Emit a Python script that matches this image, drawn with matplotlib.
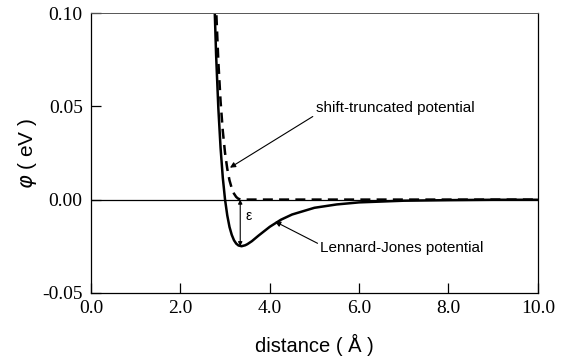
import matplotlib
matplotlib.use("Agg")
import matplotlib.pyplot as plt

# distances (Å) and potentials (eV)
lj_r = [2.75, 2.80, 2.85, 2.90, 2.95, 3.00, 3.05, 3.10, 3.15, 3.20, 3.25, 3.30,
        3.37, 3.45, 3.50, 3.60, 3.75, 4.00, 4.25, 4.50, 5.00, 5.50, 6.00, 7.00,
        8.00, 9.00, 10.0]
lj_phi = [0.1156, 0.0776, 0.0490, 0.0277, 0.0117, 0.0, -0.0085, -0.0147, -0.0189,
          -0.0218, -0.0236, -0.0246, -0.0250, -0.0245, -0.0239, -0.0223, -0.0193,
          -0.0146, -0.0108, -0.0080, -0.0044, -0.0026, -0.0015, -0.0006, -0.0003,
          -0.0001, -0.0001]

st_r = [2.75, 2.80, 2.85, 2.90, 2.95, 3.00, 3.05, 3.10, 3.15, 3.20, 3.25, 3.30,
        3.37, 10.0]
st_phi = [0.1406, 0.1026, 0.0740, 0.0527, 0.0367, 0.0250, 0.0165, 0.0103, 0.0061,
          0.0032, 0.0014, 0.0004, 0.0, 0.0]

x_ticks = [0, 2, 4, 6, 8, 10]
x_tick_labels = ["0.0", "2.0", "4.0", "6.0", "8.0", "10.0"]
y_ticks = [-0.05, 0.0, 0.05, 0.10]
y_tick_labels = ["-0.05", "0.00", "0.05", "0.10"]

r_min = 3.37
epsilon = 0.025

fig = plt.figure(figsize=(5.65, 3.62), dpi=100)
ax = fig.add_axes([0.161, 0.191, 0.791, 0.773])

ax.axhline(0, color="black", lw=0.9, zorder=1)
ax.plot(st_r, st_phi, color="black", lw=1.8, ls=(0, (4, 2.5)), zorder=3)
ax.plot(lj_r, lj_phi, color="black", lw=1.8, zorder=2)

ax.set_xlim(0, 10)
ax.set_ylim(-0.05, 0.10)

serif = "Liberation Serif"
sans = "Liberation Sans"
ax.set_xticks(x_ticks)
ax.set_xticklabels(x_tick_labels, family=serif, fontsize=14)
ax.set_yticks(y_ticks)
ax.set_yticklabels(y_tick_labels, family=serif, fontsize=14)
ax.tick_params(direction="in", length=7, width=0.9)
ax.tick_params(axis="x", pad=5)
ax.tick_params(axis="y", pad=6)

for s in ax.spines.values():
    s.set_linewidth(0.9)
ax.spines["top"].set_color("#555555")
ax.spines["top"].set_linewidth(0.7)

ax.set_xlabel("distance ( Å )", family=sans, fontsize=14.5, labelpad=12)
ax.set_ylabel(r"$\varphi$ ( eV )", family=sans, fontsize=15, labelpad=2)

# epsilon arrow
ax.annotate("", xy=(r_min - 0.03, -epsilon), xytext=(r_min - 0.03, 0.0),
            arrowprops=dict(arrowstyle="<|-|>", color="black", lw=0.8,
                            mutation_scale=6, shrinkA=0, shrinkB=0))
ax.text(r_min + 0.08, -0.0090, "ε", family=sans, fontsize=10, va="center", ha="left")

ax.annotate("shift-truncated potential", xy=(3.11, 0.0171), xytext=(6.8, 0.0492),
            ha="center", va="center", family=sans, fontsize=11,
            arrowprops=dict(arrowstyle="-|>", color="black", lw=0.8,
                            mutation_scale=8, shrinkA=0, shrinkB=0,
                            relpos=(0.0, 0.0)))
ax.annotate("Lennard-Jones potential", xy=(4.12, -0.0118), xytext=(6.96, -0.0257),
            ha="center", va="center", family=sans, fontsize=11,
            arrowprops=dict(arrowstyle="-|>", color="black", lw=0.8,
                            mutation_scale=8, shrinkA=0, shrinkB=0,
                            relpos=(0.0, 0.7)))

fig.savefig("out.png", dpi=100)
